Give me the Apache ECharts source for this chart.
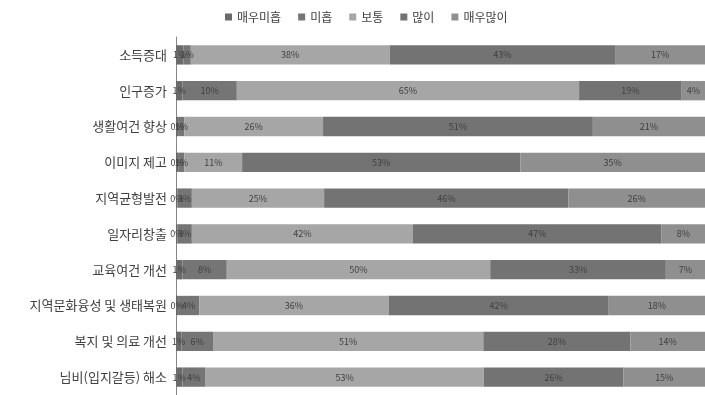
<!DOCTYPE html>
<html><head><meta charset="utf-8">
<script src="https://cdn.jsdelivr.net/npm/echarts@6/dist/echarts.min.js"></script>
<style>html,body{margin:0;padding:0;background:#fff}#c{width:705px;height:395px}</style>
</head><body><div id="c"></div>
<script>
const categories = ['소득증대','인구증가','생활여건 향상','이미지 제고','지역균형발전','일자리창출','교육여건 개선','지역문화융성 및 생태복원','복지 및 의료 개선','님비(입지갈등) 해소'];
const seriesNames = ['매우미흡','미흡','보통','많이','매우많이'];
const veryPoor = [1.4, 1.2, 0.4, 0.4, 0.3, 0.3, 1.2, 0.4, 1.0, 1.2];
const poor     = [1.4, 10.3, 1.2, 1.2, 2.7, 2.7, 8.4, 4.0, 6.0, 4.4];
const normal   = [37.6, 64.7, 26.2, 10.9, 25.0, 41.8, 49.8, 35.8, 51.1, 52.6];
const much     = [42.6, 19.4, 51.0, 52.6, 46.2, 47.0, 33.2, 41.6, 27.8, 26.4];
const veryMuch = [17.0, 4.4, 21.2, 34.9, 25.8, 8.2, 7.4, 18.2, 14.1, 15.4];
const values = [veryPoor, poor, normal, much, veryMuch];
const colors = ['#6b6b6b','#757575','#a6a6a6','#737373','#8f8f8f'];
const FONT = '"Noto Sans CJK KR", sans-serif';

const chart = echarts.init(document.getElementById('c'), null, {renderer:'canvas'});
chart.setOption({
  animation: false,
  textStyle: {fontFamily: FONT},
  legend: {
    top: 6, left: 220,
    itemWidth: 7, itemHeight: 7, itemGap: 17,
    icon: 'rect',
    textStyle: {fontSize: 12, color: '#404040', fontFamily: FONT},
    data: seriesNames
  },
  grid: {left: 176, right: -6, top: 37, bottom: -2, containLabel: false},
  xAxis: {type: 'value', min: 0, max: 100, show: false},
  yAxis: {
    type: 'category', data: categories, inverse: true,
    axisLine: {show: true, lineStyle: {color: '#868686', width: 1}},
    axisTick: {show: false},
    axisLabel: {fontSize: 13, color: '#404040', margin: 9, fontFamily: FONT}
  },
  series: seriesNames.map((n, i) => ({
    name: n, type: 'bar', stack: 'all', barWidth: '54%',
    itemStyle: {color: colors[i]},
    label: {show: true, position: 'inside', fontSize: 9, color: '#404040', fontFamily: FONT,
      formatter: p => Math.round(p.value) + '%'},
    labelLayout: {hideOverlap: false},
    data: values[i]
  }))
});
</script></body></html>
